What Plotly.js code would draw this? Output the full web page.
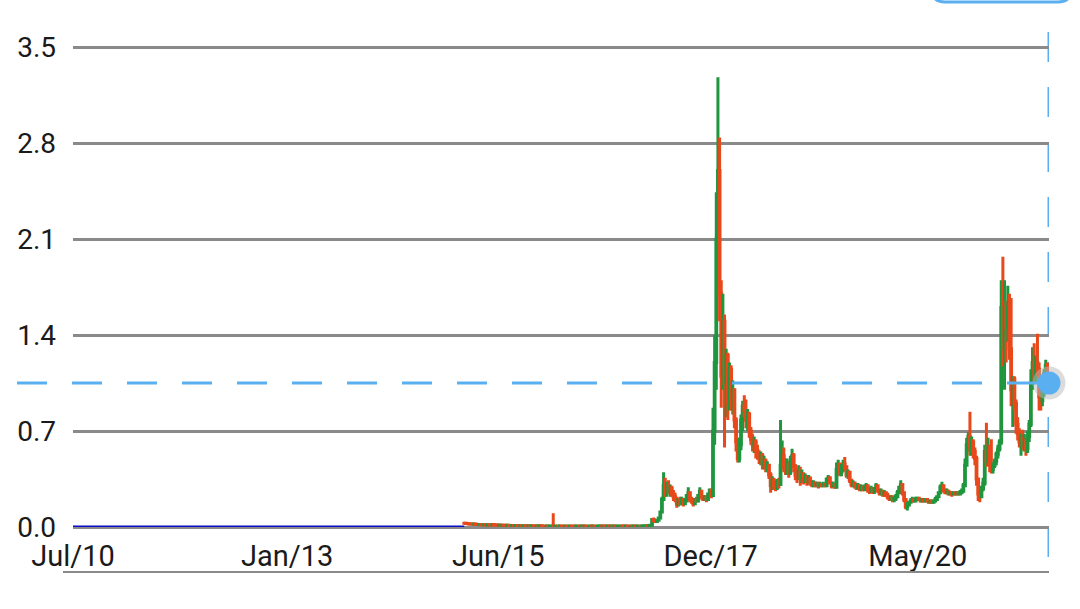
<!DOCTYPE html>
<html><head><meta charset="utf-8">
<script src="https://cdn.plot.ly/plotly-3.0.1.min.js"></script>
<style>html,body{margin:0;padding:0;background:#fff;}#chart{width:1080px;height:609px;}</style>
</head><body><div id="chart"></div>
<script>
// weekly candles, first week starting 2015-02-02
const firstWeekUTC = Date.UTC(2015, 1, 2);
const weekOpen = [
0.028,0.027,0.025,0.024,0.022,0.021,0.020,0.022,0.019,0.018,
0.019,0.017,0.016,0.017,0.015,0.016,0.015,0.014,0.018,0.015,
0.014,0.013,0.014,0.012,0.013,0.012,0.011,0.012,0.011,0.010,
0.011,0.010,0.011,0.010,0.009,0.010,0.009,0.010,0.009,0.008,
0.009,0.008,0.009,0.008,0.008,0.009,0.008,0.009,0.008,0.008,
0.007,0.008,0.007,0.008,0.008,0.007,0.008,0.008,0.007,0.008,
0.007,0.007,0.008,0.007,0.007,0.008,0.007,0.007,0.006,0.007,
0.007,0.006,0.007,0.006,0.007,0.006,0.006,0.007,0.006,0.007,
0.006,0.006,0.007,0.008,0.007,0.008,0.007,0.006,0.007,0.006,
0.007,0.006,0.007,0.006,0.007,0.007,0.008,0.007,0.006,0.007,
0.006,0.006,0.007,0.006,0.007,0.006,0.007,0.007,0.006,0.007,
0.008,0.009,0.008,0.010,
0.012,0.055,0.045,0.04,0.05,0.065,0.11,0.2,0.3,0.25,
0.3,0.26,0.28,0.24,0.22,0.2,0.17,0.2,0.17,0.2,
0.17,0.19,0.23,0.25,0.2,0.19,0.17,0.2,0.19,0.23,
0.26,0.22,0.2,0.22,0.2,0.24,0.27,0.23,0.7,1.2,
2.1,2.6,1.7,1.1,1.5,1.05,1.25,0.9,1.15,0.95,
1.0,0.78,0.62,0.5,0.6,0.78,0.88,0.85,0.78,0.82,
0.7,0.64,0.6,0.62,0.56,0.53,0.5,0.52,0.46,0.48,
0.44,0.45,0.38,0.3,0.34,0.3,0.29,0.33,0.31,0.45,
0.52,0.44,0.42,0.45,0.4,0.47,0.52,0.44,0.38,0.36,
0.4,0.36,0.38,0.34,0.36,0.33,0.35,0.32,0.31,0.32,
0.3,0.31,0.3,0.31,0.3,0.31,0.3,0.35,0.36,0.32,
0.3,0.31,0.29,0.42,0.45,0.4,0.42,0.46,0.44,0.38,
0.4,0.34,0.31,0.32,0.3,0.29,0.3,0.28,0.29,0.28,
0.29,0.3,0.27,0.26,0.28,0.26,0.28,0.3,0.27,0.25,
0.26,0.24,0.25,0.23,0.22,0.21,0.22,0.2,0.21,0.22,
0.25,0.29,0.31,0.25,0.2,0.15,0.16,0.18,0.19,0.2,
0.19,0.2,0.21,0.2,0.19,0.2,0.19,0.2,0.19,0.18,
0.19,0.18,0.19,0.2,0.22,0.25,0.29,0.3,0.27,0.25,
0.26,0.24,0.25,0.24,0.25,0.24,0.25,0.24,0.25,0.26,
0.3,0.45,0.6,0.66,0.58,0.62,0.55,0.5,0.35,0.24,
0.22,0.28,0.32,0.55,0.48,0.58,0.45,0.42,0.45,0.48,
0.53,0.57,0.62,1.6,1.3,1.6,1.45,1.6,1.3,1.0,
1.08,0.9,0.75,0.68,0.62,0.65,0.6,0.62,0.57,0.66,
0.75,1.05,1.2,1.1,1.2,1.15,0.95,0.92,1.0,1.12,
1.18,1.1
];
const weekHigh = [
0.030,0.029,0.027,0.026,0.024,0.023,0.024,0.024,0.021,0.021,
0.021,0.019,0.019,0.019,0.018,0.018,0.017,0.020,0.020,0.017,
0.016,0.016,0.016,0.015,0.015,0.014,0.014,0.014,0.013,0.013,
0.013,0.013,0.013,0.012,0.012,0.012,0.012,0.012,0.011,0.011,
0.011,0.011,0.011,0.010,0.011,0.011,0.011,0.011,0.010,0.010,
0.010,0.010,0.010,0.010,0.100,0.010,0.010,0.010,0.010,0.010,
0.009,0.010,0.010,0.009,0.010,0.010,0.009,0.009,0.009,0.009,
0.009,0.009,0.009,0.009,0.009,0.008,0.009,0.009,0.009,0.009,
0.008,0.009,0.010,0.010,0.010,0.010,0.009,0.009,0.009,0.009,
0.009,0.009,0.009,0.009,0.009,0.010,0.010,0.009,0.009,0.009,
0.008,0.009,0.009,0.009,0.009,0.009,0.009,0.009,0.009,0.010,
0.011,0.011,0.012,0.014,
0.065,0.07,0.055,0.055,0.07,0.12,0.22,0.4,0.36,0.33,
0.34,0.31,0.3,0.27,0.25,0.22,0.21,0.22,0.22,0.21,
0.21,0.24,0.29,0.26,0.22,0.2,0.21,0.22,0.24,0.29,
0.27,0.23,0.23,0.23,0.25,0.28,0.28,0.87,1.4,2.44,
3.28,2.84,1.8,1.7,1.55,1.3,1.27,1.2,1.18,1.07,
1.0,0.8,0.65,0.65,0.82,0.92,0.96,0.93,0.86,0.84,
0.73,0.68,0.66,0.64,0.6,0.56,0.55,0.54,0.52,0.5,
0.48,0.46,0.4,0.37,0.36,0.34,0.35,0.36,0.78,0.63,
0.58,0.5,0.5,0.48,0.52,0.57,0.54,0.46,0.42,0.45,
0.44,0.42,0.4,0.39,0.38,0.38,0.37,0.34,0.34,0.33,
0.33,0.33,0.33,0.32,0.33,0.32,0.36,0.38,0.37,0.33,
0.33,0.32,0.47,0.49,0.47,0.46,0.49,0.51,0.45,0.42,
0.41,0.35,0.34,0.33,0.32,0.32,0.31,0.31,0.3,0.31,
0.32,0.31,0.29,0.3,0.29,0.29,0.32,0.31,0.28,0.28,
0.27,0.27,0.26,0.25,0.23,0.23,0.23,0.22,0.24,0.27,
0.3,0.34,0.32,0.26,0.21,0.18,0.19,0.21,0.22,0.21,
0.22,0.22,0.22,0.21,0.21,0.21,0.21,0.21,0.2,0.2,
0.2,0.2,0.22,0.23,0.26,0.31,0.33,0.31,0.28,0.28,
0.27,0.26,0.26,0.26,0.26,0.26,0.26,0.27,0.28,0.32,
0.5,0.65,0.69,0.84,0.66,0.64,0.58,0.52,0.36,0.27,
0.3,0.36,0.6,0.76,0.65,0.6,0.64,0.47,0.5,0.55,
0.6,0.64,1.8,1.97,1.8,1.65,1.76,1.7,1.67,1.1,
1.1,0.93,0.8,0.72,0.68,0.71,0.68,0.65,0.7,0.78,
1.15,1.31,1.34,1.25,1.41,1.2,1.0,1.05,1.15,1.22,
1.2,1.12
];
const weekLow = [
0.025,0.023,0.022,0.020,0.019,0.018,0.018,0.017,0.016,0.016,
0.015,0.014,0.014,0.013,0.013,0.013,0.012,0.012,0.013,0.012,
0.011,0.011,0.010,0.010,0.010,0.009,0.009,0.009,0.008,0.008,
0.008,0.008,0.008,0.007,0.007,0.007,0.007,0.007,0.006,0.006,
0.006,0.006,0.006,0.006,0.006,0.006,0.006,0.006,0.006,0.005,
0.005,0.005,0.005,0.006,0.005,0.005,0.006,0.005,0.005,0.005,
0.005,0.005,0.005,0.005,0.005,0.005,0.005,0.004,0.004,0.005,
0.004,0.004,0.004,0.004,0.004,0.004,0.004,0.004,0.004,0.004,
0.004,0.004,0.005,0.005,0.005,0.005,0.004,0.004,0.004,0.004,
0.004,0.004,0.004,0.004,0.005,0.005,0.005,0.004,0.004,0.004,
0.004,0.004,0.004,0.004,0.004,0.004,0.005,0.004,0.004,0.005,
0.006,0.006,0.006,0.008,
0.011,0.04,0.035,0.035,0.045,0.06,0.1,0.19,0.22,0.22,
0.24,0.22,0.22,0.19,0.18,0.14,0.15,0.16,0.16,0.15,
0.16,0.18,0.2,0.18,0.17,0.15,0.16,0.18,0.18,0.22,
0.2,0.19,0.19,0.18,0.19,0.22,0.21,0.22,0.6,1.0,
1.8,1.5,0.87,1.0,0.58,0.8,0.78,0.85,0.85,0.82,
0.72,0.55,0.47,0.47,0.56,0.7,0.8,0.72,0.7,0.65,
0.6,0.55,0.54,0.5,0.49,0.46,0.45,0.42,0.42,0.4,
0.4,0.35,0.25,0.27,0.27,0.26,0.27,0.28,0.3,0.42,
0.4,0.38,0.38,0.36,0.38,0.45,0.4,0.34,0.32,0.34,
0.3,0.32,0.31,0.32,0.3,0.31,0.3,0.29,0.29,0.29,
0.29,0.28,0.29,0.29,0.29,0.29,0.3,0.33,0.31,0.28,
0.29,0.28,0.29,0.38,0.37,0.37,0.4,0.41,0.36,0.35,
0.32,0.29,0.29,0.28,0.27,0.27,0.26,0.26,0.26,0.26,
0.27,0.25,0.24,0.25,0.24,0.24,0.27,0.25,0.23,0.23,
0.22,0.22,0.22,0.2,0.19,0.19,0.18,0.18,0.19,0.21,
0.24,0.27,0.23,0.18,0.13,0.12,0.15,0.17,0.18,0.18,
0.18,0.19,0.19,0.18,0.18,0.18,0.18,0.18,0.17,0.17,
0.17,0.17,0.18,0.19,0.21,0.24,0.27,0.25,0.24,0.24,
0.23,0.23,0.22,0.23,0.23,0.23,0.23,0.23,0.24,0.25,
0.29,0.44,0.55,0.52,0.52,0.5,0.45,0.3,0.19,0.18,
0.21,0.26,0.3,0.44,0.45,0.4,0.39,0.39,0.43,0.45,
0.5,0.55,0.6,1.17,1.0,1.2,1.35,1.22,0.88,0.73,
0.85,0.68,0.63,0.58,0.52,0.56,0.55,0.52,0.54,0.62,
0.73,1.0,1.05,1.05,1.1,0.85,0.85,0.88,0.95,1.05,
1.02,1.0
];
const weekClose = [
0.027,0.025,0.024,0.022,0.021,0.020,0.022,0.019,0.018,0.019,
0.017,0.016,0.017,0.015,0.016,0.015,0.014,0.018,0.015,0.014,
0.013,0.014,0.012,0.013,0.012,0.011,0.012,0.011,0.010,0.011,
0.010,0.011,0.010,0.009,0.010,0.009,0.010,0.009,0.008,0.009,
0.008,0.009,0.008,0.008,0.009,0.008,0.009,0.008,0.008,0.007,
0.008,0.007,0.008,0.008,0.007,0.008,0.008,0.007,0.008,0.007,
0.007,0.008,0.007,0.007,0.008,0.007,0.007,0.006,0.007,0.007,
0.006,0.007,0.006,0.007,0.006,0.006,0.007,0.006,0.007,0.006,
0.006,0.007,0.008,0.007,0.008,0.007,0.006,0.007,0.006,0.007,
0.006,0.007,0.006,0.007,0.007,0.008,0.007,0.006,0.007,0.006,
0.006,0.007,0.006,0.007,0.006,0.007,0.007,0.006,0.007,0.008,
0.009,0.008,0.010,0.012,
0.055,0.045,0.04,0.05,0.065,0.11,0.2,0.3,0.25,0.3,
0.26,0.28,0.24,0.22,0.2,0.17,0.2,0.17,0.2,0.17,
0.19,0.23,0.25,0.2,0.19,0.17,0.2,0.19,0.23,0.26,
0.22,0.2,0.22,0.2,0.24,0.27,0.23,0.7,1.2,2.1,
2.6,1.7,1.1,1.5,1.05,1.25,0.9,1.15,0.95,1.0,
0.78,0.62,0.5,0.6,0.78,0.88,0.85,0.78,0.82,0.7,
0.64,0.6,0.62,0.56,0.53,0.5,0.52,0.46,0.48,0.44,
0.45,0.38,0.3,0.34,0.3,0.29,0.33,0.31,0.45,0.52,
0.44,0.42,0.45,0.4,0.47,0.52,0.44,0.38,0.36,0.4,
0.36,0.38,0.34,0.36,0.33,0.35,0.32,0.31,0.32,0.3,
0.31,0.3,0.31,0.3,0.31,0.3,0.35,0.36,0.32,0.3,
0.31,0.29,0.42,0.45,0.4,0.42,0.46,0.44,0.38,0.4,
0.34,0.31,0.32,0.3,0.29,0.3,0.28,0.29,0.28,0.29,
0.3,0.27,0.26,0.28,0.26,0.28,0.3,0.27,0.25,0.26,
0.24,0.25,0.23,0.22,0.21,0.22,0.2,0.21,0.22,0.25,
0.29,0.31,0.25,0.2,0.15,0.16,0.18,0.19,0.2,0.19,
0.2,0.21,0.2,0.19,0.2,0.19,0.2,0.19,0.18,0.19,
0.18,0.19,0.2,0.22,0.25,0.29,0.3,0.27,0.25,0.26,
0.24,0.25,0.24,0.25,0.24,0.25,0.24,0.25,0.26,0.3,
0.45,0.6,0.66,0.58,0.62,0.55,0.5,0.35,0.24,0.22,
0.28,0.32,0.55,0.48,0.58,0.45,0.42,0.45,0.48,0.53,
0.57,0.62,1.6,1.3,1.6,1.45,1.6,1.3,1.0,1.08,
0.9,0.75,0.68,0.62,0.65,0.6,0.62,0.57,0.66,0.75,
1.05,1.2,1.1,1.2,1.15,0.95,0.92,1.0,1.12,1.18,
1.1,1.05
];

// early period with no trading: flat series at zero
const historyDates = ['2010-07-15', '2015-02-02'];
const historyValues = [0, 0];

const xTickDates = ['2010-07-15', '2013-01-10', '2015-06-26', '2017-12-15', '2020-05-13'];
const xTickLabels = ['Jul/10', 'Jan/13', 'Jun/15', 'Dec/17', 'May/20'];
const yTickVals = [0, 0.7, 1.4, 2.1, 2.8, 3.5];
const yTickLabels = ['0.0', '0.7', '1.4', '2.1', '2.8', '3.5'];

const weekDates = weekClose.map((_, i) =>
  new Date(firstWeekUTC + i * 7 * 86400000).toISOString().slice(0, 10));
const lastDate = weekDates[weekDates.length - 1];
const lastClose = weekClose[weekClose.length - 1];

const GREEN = '#1f963e', RED = '#e9481a', BLUE_LINE = '#0c0cc8', ACCENT = '#5aaff0', GRID = '#8a8a8a';
const yFont = {family: 'Roboto, sans-serif', size: 28, color: '#1a1a1a'};
const xFont = {family: 'Roboto, sans-serif', size: 29, color: '#1a1a1a'};

const traces = [
  {type: 'scatter', mode: 'lines', x: historyDates, y: historyValues,
   line: {color: BLUE_LINE, width: 3}, hoverinfo: 'skip'},
  {type: 'candlestick', x: weekDates, open: weekOpen, high: weekHigh, low: weekLow, close: weekClose,
   increasing: {line: {color: GREEN, width: 3}, fillcolor: GREEN},
   decreasing: {line: {color: RED, width: 3}, fillcolor: RED},
   whiskerwidth: 0, hoverinfo: 'skip'},
  {type: 'scatter', mode: 'markers', x: [lastDate], y: [lastClose], cliponaxis: false,
   marker: {size: 33, color: 'rgba(185,185,185,0.5)'}, hoverinfo: 'skip'},
  {type: 'scatter', mode: 'markers', x: [lastDate], y: [lastClose], cliponaxis: false,
   marker: {size: 23, color: ACCENT}, hoverinfo: 'skip'}
];

const layout = {
  width: 1080, height: 609,
  margin: {l: 73, r: 31, t: 44, b: 82},
  paper_bgcolor: '#ffffff', plot_bgcolor: '#ffffff',
  showlegend: false, hovermode: false,
  xaxis: {
    type: 'date', range: [historyDates[0], lastDate],
    tickmode: 'array', tickvals: xTickDates, ticktext: xTickLabels,
    showgrid: false, zeroline: false, showline: false, ticks: '',
    ticklabelstandoff: 9, tickfont: xFont,
    rangeslider: {visible: false}, fixedrange: true
  },
  yaxis: {
    range: [0, 3.5219], tickmode: 'array', tickvals: yTickVals, ticktext: yTickLabels,
    showgrid: true, gridcolor: GRID, gridwidth: 3,
    zeroline: true, zerolinecolor: GRID, zerolinewidth: 3,
    showline: false, ticks: '', ticklabelstandoff: 16, tickfont: yFont, fixedrange: true
  },
  shapes: [
    {type: 'line', xref: 'paper', yref: 'paper', x0: -0.01025, x1: 1, y0: -0.09317, y1: -0.09317,
     line: {color: GRID, width: 2}},
    {type: 'line', xref: 'x', yref: 'paper', x0: lastDate, x1: lastDate, y0: 1.02484, y1: -0.06211,
     layer: 'between', line: {color: ACCENT, width: 3, dash: '30px,25px'}},
    {type: 'line', xref: 'paper', yref: 'y', x0: 0.9877, x1: -0.0748, y0: lastClose, y1: lastClose,
     layer: 'above', line: {color: ACCENT, width: 3, dash: '30px,25px'}},
    {type: 'path', xref: 'paper', yref: 'paper',
     path: 'M 0.88115,1.10766 Q 0.88115,1.08696 0.89344,1.08696 L 1.00922,1.08696 Q 1.02152,1.08696 1.02152,1.10766',
     line: {color: ACCENT, width: 3}}
  ]
};

Plotly.newPlot('chart', traces, layout, {displayModeBar: false, staticPlot: true});
</script>
</body></html>
